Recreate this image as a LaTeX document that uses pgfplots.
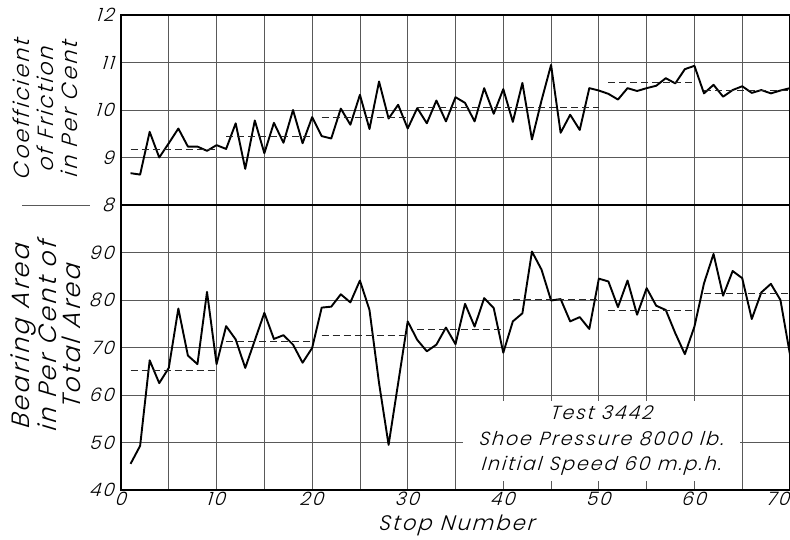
\documentclass[border=0pt]{standalone}
\usepackage{pgfplots}
\usepackage{pgfplotstable}
\pgfplotsset{compat=1.18}
\usepackage{fontspec}
\setmainfont{Poppins Light Italic}[LetterSpace=10, FakeSlant=0.12]

\pgfplotstableread{
n f
1 8.67
2 8.64
3 9.54
4 9.00
5 9.30
6 9.61
7 9.23
8 9.23
9 9.14
10 9.26
11 9.18
12 9.72
13 8.76
14 9.78
15 9.09
16 9.73
17 9.31
18 10.00
19 9.30
20 9.85
21 9.45
22 9.40
23 10.03
24 9.69
25 10.32
26 9.60
27 10.60
28 9.82
29 10.11
30 9.61
31 10.04
32 9.72
33 10.20
34 9.76
35 10.27
36 10.15
37 9.76
38 10.46
39 9.92
40 10.44
41 9.75
42 10.57
43 9.38
44 10.20
45 10.95
46 9.52
47 9.90
48 9.58
49 10.46
50 10.41
51 10.34
52 10.22
53 10.46
54 10.40
55 10.46
56 10.51
57 10.67
58 10.56
59 10.86
60 10.93
61 10.35
62 10.53
63 10.28
64 10.42
65 10.50
66 10.36
67 10.42
68 10.35
69 10.41
70 10.46
}\fric

\pgfplotstableread{
n a
1 45.5
2 49.3
3 67.3
4 62.5
5 65.7
6 78.2
7 68.3
8 66.5
9 81.7
10 66.5
11 74.5
12 71.7
13 65.7
14 71.5
15 77.3
16 71.8
17 72.6
18 70.6
19 66.8
20 69.9
21 78.4
22 78.6
23 81.2
24 79.5
25 84.1
26 77.9
27 62.5
28 49.5
29 62.5
30 75.5
31 71.6
32 69.2
33 70.6
34 74.2
35 70.7
36 79.2
37 74.4
38 80.4
39 78.3
40 68.9
41 75.5
42 77.2
43 90.2
44 86.4
45 79.9
46 80.2
47 75.5
48 76.4
49 73.9
50 84.5
51 83.9
52 78.5
53 84.1
54 76.9
55 82.5
56 78.8
57 77.9
58 73.0
59 68.6
60 74.4
61 83.5
62 89.7
63 80.9
64 86.1
65 84.6
66 76.0
67 81.6
68 83.4
69 80.0
70 68.5
}\area

\pgfplotsset{
  chartbase/.style={
    anchor=south west, width=669pt, scale only axis,
    xmin=0, xmax=70,
    xtick={0,10,...,70}, minor xtick={5,15,...,65},
    grid=both,
    major grid style={black!65, line width=0.75pt},
    minor grid style={black!65, line width=0.75pt},
    axis line style={line width=1.6pt},
    major tick length=0pt, minor tick length=0pt,
    /pgf/number format/assume math mode=true,
    ticklabel style={font=\fontsize{18.5}{18.5}\selectfont},
    yticklabel style={xshift=-3pt},
    xticklabel style={yshift=-1pt, inner sep=1pt},
  },
  dataline/.style={black, line width=1.9pt, line join=round},
  meanline/.style={black!85, line width=1.1pt, dash pattern=on 7pt off 4pt},
}

\begin{document}
\begin{tikzpicture}
\useasboundingbox (0pt,0pt) rectangle (790pt,539pt);

% Top panel
\begin{axis}[chartbase, at={(121pt,334pt)}, height=190pt,
  ymin=8, ymax=12, ytick={8,9,10,11,12}, xticklabels={}]
  \addplot[dataline] table[x=n, y=f] {\fric};
  \addplot[meanline] coordinates {(1,9.16) (10,9.16)};
  \addplot[meanline] coordinates {(11,9.44) (20,9.44)};
  \addplot[meanline] coordinates {(21,9.85) (30,9.85)};
  \addplot[meanline] coordinates {(31,10.05) (50,10.05)};
  \addplot[meanline] coordinates {(51,10.57) (60,10.57)};
  \addplot[meanline] coordinates {(61,10.42) (70,10.42)};
\end{axis}

% Bottom panel
\begin{axis}[chartbase, at={(121pt,49pt)}, height=285pt,
  ymin=40, ymax=100, ytick={40,50,...,90},
  xticklabels={0,10,20,30,40,50,60,{\llap{70}}}]
  \addplot[dataline] table[x=n, y=a] {\area};
  \addplot[meanline] coordinates {(1,65.1) (10,65.1)};
  \addplot[meanline] coordinates {(11,71.2) (20,71.2)};
  \addplot[meanline] coordinates {(21,72.6) (30,72.6)};
  \addplot[meanline] coordinates {(31,73.7) (40,73.7)};
  \addplot[meanline] coordinates {(41,80.2) (50,80.2)};
  \addplot[meanline] coordinates {(51,77.7) (60,77.7)};
  \addplot[meanline] coordinates {(61,81.4) (70,81.4)};
  \node[fill=white, inner sep=0pt, minimum width=277pt, minimum height=80pt,
        align=center, font=\fontsize{19}{25.5}\selectfont]
        at (axis cs:50.28,50.4) {Test 3442\\Shoe Pressure 8000 lb.\\Initial Speed 60 m.p.h.};
\end{axis}

% separator line at left
\draw[black!65, line width=0.75pt] (22pt,334pt) -- (90pt,334pt);

% y labels
\node[rotate=90, align=center, font=\fontsize{22}{24}\selectfont] at (45pt,430pt)
  {Coefficient\\of Friction\\in Per Cent};
\node[rotate=90, align=center, font=\fontsize{25}{24.5}\selectfont] at (46pt,203pt)
  {Bearing Area\\in Per Cent of\\Total Area};
% x label
\node[anchor=base, inner sep=0pt, font=\fontsize{21}{21}\selectfont] at (457pt,8.5pt) {Stop Number};
\end{tikzpicture}
\end{document}
